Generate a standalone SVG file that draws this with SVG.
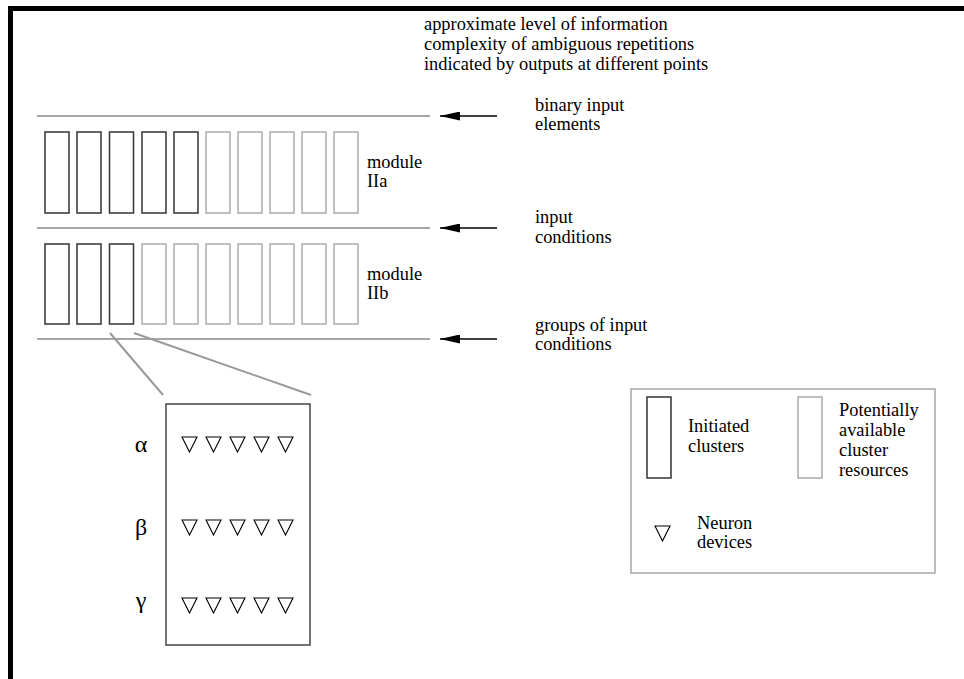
<svg xmlns="http://www.w3.org/2000/svg" width="964" height="679" viewBox="0 0 964 679">
<defs>
<style>
text{font-family:'Liberation Serif','DejaVu Serif',serif;font-size:18.4px;fill:#000}
.greek{font-size:24px;text-anchor:middle}
.init{fill:none;stroke:#333;stroke-width:1.5}
.pot{fill:none;stroke:#aaa;stroke-width:1.5}
.hl{stroke:#888;stroke-width:1.3}
.arr{stroke:#000;stroke-width:1.5}
.tri{fill:none;stroke:#000;stroke-width:1.1}
</style>
<marker id="ah" viewBox="0 0 20 9" refX="20" refY="4.5" markerWidth="20" markerHeight="9" markerUnits="userSpaceOnUse" orient="auto">
<path d="M20,4.5 L0,0 L0,9 Z" fill="#000"/>
</marker>
<polygon id="nt" points="0,0 15,0 7.5,15" class="tri"/>
</defs>
<rect width="964" height="679" fill="#fff"/>
<g id="frame">
<line x1="8" y1="8.5" x2="964" y2="8.5" stroke="#000" stroke-width="5"/>
<line x1="10.5" y1="6" x2="10.5" y2="679" stroke="#000" stroke-width="5"/>
</g>
<g font-family="Liberation Serif, DejaVu Serif, serif">
<g id="title">
<text x="424" y="30">approximate level of information</text>
<text x="424" y="50">complexity of ambiguous repetitions</text>
<text x="424" y="70">indicated by outputs at different points</text>
</g>
<g id="connectors">
<line class="hl" x1="37" y1="116" x2="430" y2="116"/>
<line class="hl" x1="37" y1="228" x2="430" y2="228"/>
<line class="hl" x1="37" y1="339" x2="430" y2="339"/>
<line class="arr" x1="497" y1="116" x2="440" y2="116" marker-end="url(#ah)"/>
<line class="arr" x1="497" y1="228" x2="440" y2="228" marker-end="url(#ah)"/>
<line class="arr" x1="497" y1="339" x2="440" y2="339" marker-end="url(#ah)"/>
<line x1="110" y1="333" x2="163" y2="395" stroke="#999" stroke-width="2"/>
<line x1="134" y1="333" x2="311" y2="395" stroke="#999" stroke-width="2"/>
</g>
<g id="labels">
<text x="535" y="111">binary input</text>
<text x="535" y="130">elements</text>
<text x="535" y="223">input</text>
<text x="535" y="243">conditions</text>
<text x="535" y="331">groups of input</text>
<text x="535" y="350">conditions</text>
</g>
<g id="moduleIIa">
<rect class="init" x="45" y="132" width="24" height="81"/>
<rect class="init" x="77" y="132" width="24" height="81"/>
<rect class="init" x="109.5" y="132" width="24" height="81"/>
<rect class="init" x="142" y="132" width="24" height="81"/>
<rect class="init" x="174" y="132" width="24" height="81"/>
<rect class="pot" x="206" y="132" width="24" height="81"/>
<rect class="pot" x="238" y="132" width="24" height="81"/>
<rect class="pot" x="270" y="132" width="24" height="81"/>
<rect class="pot" x="302" y="132" width="24" height="81"/>
<rect class="pot" x="334" y="132" width="24" height="81"/>
<text x="367" y="168">module</text>
<text x="367" y="187">IIa</text>
</g>
<g id="moduleIIb">
<rect class="init" x="45" y="244" width="24" height="80"/>
<rect class="init" x="77" y="244" width="24" height="80"/>
<rect class="init" x="109.5" y="244" width="24" height="80"/>
<rect class="pot" x="142" y="244" width="24" height="80"/>
<rect class="pot" x="174" y="244" width="24" height="80"/>
<rect class="pot" x="206" y="244" width="24" height="80"/>
<rect class="pot" x="238" y="244" width="24" height="80"/>
<rect class="pot" x="270" y="244" width="24" height="80"/>
<rect class="pot" x="302" y="244" width="24" height="80"/>
<rect class="pot" x="334" y="244" width="24" height="80"/>
<text x="367" y="280">module</text>
<text x="367" y="299">IIb</text>
</g>
<g id="cluster-detail">
<rect x="166" y="404" width="144" height="241" fill="none" stroke="#444" stroke-width="1.5"/>
<text class="greek" x="141" y="452">α</text>
<text class="greek" x="141" y="535">β</text>
<text class="greek" x="141" y="608">γ</text>
<use href="#nt" x="182" y="437"/><use href="#nt" x="206" y="437"/><use href="#nt" x="230" y="437"/><use href="#nt" x="254" y="437"/><use href="#nt" x="278" y="437"/>
<use href="#nt" x="182" y="520"/><use href="#nt" x="206" y="520"/><use href="#nt" x="230" y="520"/><use href="#nt" x="254" y="520"/><use href="#nt" x="278" y="520"/>
<use href="#nt" x="182" y="598"/><use href="#nt" x="206" y="598"/><use href="#nt" x="230" y="598"/><use href="#nt" x="254" y="598"/><use href="#nt" x="278" y="598"/>
</g>
<g id="legend">
<rect x="631" y="389" width="304" height="184" fill="none" stroke="#999" stroke-width="1.3"/>
<rect class="init" x="647" y="397" width="24" height="81"/>
<text x="688" y="432">Initiated</text>
<text x="688" y="452">clusters</text>
<rect class="pot" x="798" y="397" width="24" height="81"/>
<text x="839" y="416">Potentially</text>
<text x="839" y="436">available</text>
<text x="839" y="456">cluster</text>
<text x="839" y="476">resources</text>
<use href="#nt" x="655" y="526"/>
<text x="697" y="529">Neuron</text>
<text x="697" y="548">devices</text>
</g>
</g>
</svg>
